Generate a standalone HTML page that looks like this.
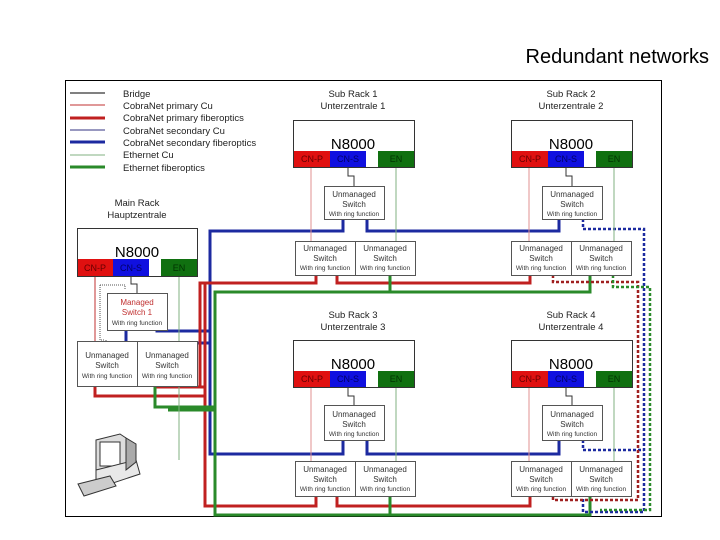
<!DOCTYPE html>
<html><head><style>
body{margin:0;background:#fff;}
svg{display:block;font-family:"Liberation Sans",sans-serif;}
</style></head><body>
<svg width="720" height="540" viewBox="0 0 720 540">
<text x="709" y="63" font-size="20" text-anchor="end">Redundant networks</text>
<rect x="65.5" y="80.5" width="596" height="436" fill="none" stroke="#000" stroke-width="1"/>
<!-- legend -->
<g stroke-linecap="butt">
<line x1="70" y1="93" x2="105" y2="93" stroke="#000" stroke-width="1"/>
<line x1="70" y1="105" x2="105" y2="105" stroke="#c03030" stroke-width="1"/>
<line x1="70" y1="118" x2="105" y2="118" stroke="#c02020" stroke-width="3"/>
<line x1="70" y1="130" x2="105" y2="130" stroke="#303080" stroke-width="1"/>
<line x1="70" y1="142" x2="105" y2="142" stroke="#1c2aa0" stroke-width="3"/>
<line x1="70" y1="155" x2="105" y2="155" stroke="#80b080" stroke-width="1"/>
<line x1="70" y1="167" x2="105" y2="167" stroke="#2a8a2a" stroke-width="3"/>
</g>
<g font-size="9.5" fill="#222">
<text x="123" y="97">Bridge</text>
<text x="123" y="109">CobraNet primary Cu</text>
<text x="123" y="121">CobraNet primary fiberoptics</text>
<text x="123" y="134">CobraNet secondary Cu</text>
<text x="123" y="146">CobraNet secondary fiberoptics</text>
<text x="123" y="158">Ethernet Cu</text>
<text x="123" y="171">Ethernet fiberoptics</text>
</g>

<!-- thick trunks -->
<g fill="none" stroke-width="3">
<path d="M343 219 V231 H210 V454 H343 V440" stroke="#1c2aa0"/>
<path d="M367 219 V231 H559 V219" stroke="#1c2aa0"/>
<path d="M367 440 V454 H559 V440" stroke="#1c2aa0"/>
<path d="M210 331 H157 V330 M210 343 H126 V330" stroke="#1c2aa0"/>
<path d="M316 275 V283 H205 V506 H316 V496" stroke="#c02020"/>
<path d="M337 275 V283 H530 V275" stroke="#c02020"/>
<path d="M337 496 V506 H530 V496" stroke="#c02020"/>
<path d="M205 387 H157 V386 M205 396 H95 V386" stroke="#c02020"/>
<path d="M205 283 H200 V387" stroke="#c02020"/>
<path d="M390 275 V292 H215 V515 H390 V496" stroke="#2a8a2a"/>
<path d="M390 292 H590 V275" stroke="#2a8a2a"/>
<path d="M390 515 H590 V496" stroke="#2a8a2a"/>
<path d="M215 407 H155 V386 M215 410 H168" stroke="#2a8a2a"/>
</g>
<!-- dotted -->
<g fill="none" stroke-width="2.5" stroke-dasharray="3,2">
<path d="M583 219 V229 H644 V512 H583 V498" stroke="#1c2aa0"/>
<path d="M583 440 V450 H644" stroke="#1c2aa0"/>
<path d="M553 275 V282 H638 V500 H553 V496" stroke="#a02020"/>
<path d="M613 275 V287 H650 V510 H600" stroke="#2a8a2a"/>
</g>
<!-- thin drops -->
<g stroke-width="1" fill="none">
<path d="M311 167 V241" stroke="#e09090"/>
<path d="M348 167 V176 H354 V186" stroke="#333"/>
<path d="M396 167 V241" stroke="#80b080"/>
<path d="M529 167 V241" stroke="#e09090"/>
<path d="M566 167 V176 H572 V186" stroke="#333"/>
<path d="M614 167 V241" stroke="#80b080"/>
<path d="M311 387 V461" stroke="#e09090"/>
<path d="M348 387 V396 H354 V405" stroke="#333"/>
<path d="M396 387 V461" stroke="#80b080"/>
<path d="M529 387 V461" stroke="#e09090"/>
<path d="M566 387 V396 H572 V405" stroke="#333"/>
<path d="M614 387 V461" stroke="#80b080"/>
<path d="M95 276 V341" stroke="#c03030"/>
<path d="M131 276 V284 H137 V293" stroke="#333"/>
<path d="M179 276 V460" stroke="#80b080"/>
<path d="M100 285 H125 V290 M100 285 V340 H105 M106 345 V340" stroke="#555" stroke-dasharray="1,1"/>
</g>

<!-- N8000 boxes -->
<g id="r">
</g>
<g font-size="15" text-anchor="middle">
<rect x="293.5" y="120.5" width="121" height="47" fill="#fff" stroke="#333"/>
<text x="353" y="149">N8000</text>
<rect x="511.5" y="120.5" width="121" height="47" fill="#fff" stroke="#333"/>
<text x="571" y="149">N8000</text>
<rect x="293.5" y="340.5" width="121" height="47" fill="#fff" stroke="#333"/>
<text x="353" y="369">N8000</text>
<rect x="511.5" y="340.5" width="121" height="47" fill="#fff" stroke="#333"/>
<text x="571" y="369">N8000</text>
<rect x="77.5" y="228.5" width="120" height="48" fill="#fff" stroke="#333"/>
<text x="137" y="257">N8000</text>
</g>
<g font-size="9" text-anchor="middle">
<rect x="294" y="151" width="36" height="16" fill="#e01010"/><text x="312" y="162" fill="#600">CN-P</text>
<rect x="330" y="151" width="36" height="16" fill="#1010e0"/><text x="348" y="162" fill="#006">CN-S</text>
<rect x="378" y="151" width="36" height="16" fill="#107010"/><text x="396" y="162" fill="#030">EN</text>
<rect x="512" y="151" width="36" height="16" fill="#e01010"/><text x="530" y="162" fill="#600">CN-P</text>
<rect x="548" y="151" width="36" height="16" fill="#1010e0"/><text x="566" y="162" fill="#006">CN-S</text>
<rect x="596" y="151" width="36" height="16" fill="#107010"/><text x="614" y="162" fill="#030">EN</text>
<rect x="294" y="371" width="36" height="16" fill="#e01010"/><text x="312" y="382" fill="#600">CN-P</text>
<rect x="330" y="371" width="36" height="16" fill="#1010e0"/><text x="348" y="382" fill="#006">CN-S</text>
<rect x="378" y="371" width="36" height="16" fill="#107010"/><text x="396" y="382" fill="#030">EN</text>
<rect x="512" y="371" width="36" height="16" fill="#e01010"/><text x="530" y="382" fill="#600">CN-P</text>
<rect x="548" y="371" width="36" height="16" fill="#1010e0"/><text x="566" y="382" fill="#006">CN-S</text>
<rect x="596" y="371" width="36" height="16" fill="#107010"/><text x="614" y="382" fill="#030">EN</text>
<rect x="78" y="259" width="35" height="17" fill="#e01010"/><text x="95" y="271" fill="#600">CN-P</text>
<rect x="113" y="259" width="36" height="17" fill="#1010e0"/><text x="131" y="271" fill="#006">CN-S</text>
<rect x="161" y="259" width="36" height="17" fill="#107010"/><text x="179" y="271" fill="#030">EN</text>
</g>
<!-- rack labels -->
<g font-size="9.5" text-anchor="middle" fill="#222">
<text x="353" y="97">Sub Rack 1</text><text x="353" y="109">Unterzentrale 1</text>
<text x="571" y="97">Sub Rack 2</text><text x="571" y="109">Unterzentrale 2</text>
<text x="353" y="318">Sub Rack 3</text><text x="353" y="330">Unterzentrale 3</text>
<text x="571" y="318">Sub Rack 4</text><text x="571" y="330">Unterzentrale 4</text>
<text x="137" y="206">Main Rack</text><text x="137" y="218">Hauptzentrale</text>
</g>
<!-- switches -->
<g font-size="8" text-anchor="middle" fill="#333">
<g stroke="#555" fill="#fff">
<rect x="324.5" y="186.5" width="60" height="33"/>
<rect x="295.5" y="241.5" width="60" height="34"/><rect x="355.5" y="241.5" width="60" height="34"/>
<rect x="542.5" y="186.5" width="60" height="33"/>
<rect x="511.5" y="241.5" width="60" height="34"/><rect x="571.5" y="241.5" width="60" height="34"/>
<rect x="324.5" y="405.5" width="60" height="35"/>
<rect x="295.5" y="461.5" width="60" height="35"/><rect x="355.5" y="461.5" width="60" height="35"/>
<rect x="542.5" y="405.5" width="60" height="35"/>
<rect x="511.5" y="461.5" width="60" height="35"/><rect x="571.5" y="461.5" width="60" height="35"/>
<rect x="107.5" y="293.5" width="60" height="37"/>
<rect x="77.5" y="341.5" width="60" height="45"/><rect x="137.5" y="341.5" width="60" height="45"/>
</g>
<g id="t">
<text x="354" y="197">Unmanaged</text><text x="354" y="207">Switch</text><text x="354" y="216" font-size="6.5">With ring function</text>
<text x="325" y="251">Unmanaged</text><text x="325" y="261">Switch</text><text x="325" y="270" font-size="6.5">With ring function</text>
<text x="385" y="251">Unmanaged</text><text x="385" y="261">Switch</text><text x="385" y="270" font-size="6.5">With ring function</text>
<text x="572" y="197">Unmanaged</text><text x="572" y="207">Switch</text><text x="572" y="216" font-size="6.5">With ring function</text>
<text x="541" y="251">Unmanaged</text><text x="541" y="261">Switch</text><text x="541" y="270" font-size="6.5">With ring function</text>
<text x="601" y="251">Unmanaged</text><text x="601" y="261">Switch</text><text x="601" y="270" font-size="6.5">With ring function</text>
<text x="354" y="417">Unmanaged</text><text x="354" y="427">Switch</text><text x="354" y="436" font-size="6.5">With ring function</text>
<text x="325" y="472">Unmanaged</text><text x="325" y="482">Switch</text><text x="325" y="491" font-size="6.5">With ring function</text>
<text x="385" y="472">Unmanaged</text><text x="385" y="482">Switch</text><text x="385" y="491" font-size="6.5">With ring function</text>
<text x="572" y="417">Unmanaged</text><text x="572" y="427">Switch</text><text x="572" y="436" font-size="6.5">With ring function</text>
<text x="541" y="472">Unmanaged</text><text x="541" y="482">Switch</text><text x="541" y="491" font-size="6.5">With ring function</text>
<text x="601" y="472">Unmanaged</text><text x="601" y="482">Switch</text><text x="601" y="491" font-size="6.5">With ring function</text>
<text x="137" y="305" fill="#c03030">Managed</text><text x="137" y="315" fill="#c03030">Switch 1</text><text x="137" y="325" font-size="6.5">With ring function</text>
<text x="107" y="358">Unmanaged</text><text x="107" y="368">Switch</text><text x="107" y="378" font-size="6.5">With ring function</text>
<text x="167" y="358">Unmanaged</text><text x="167" y="368">Switch</text><text x="167" y="378" font-size="6.5">With ring function</text>
</g>
</g>
<!-- computer -->
<g stroke="#333" stroke-width="1">
<polygon points="96,440 120,434 126,438 126,470 102,476 96,472" fill="#ddd"/>
<rect x="100" y="442" width="20" height="24" fill="#fff"/>
<polygon points="96,470 136,460 140,474 104,486 96,482" fill="#e8e8e8"/>
<polygon points="126,438 136,444 136,462 126,470" fill="#aaa"/>
<polygon points="78,484 110,476 116,486 84,496" fill="#ccc"/>
</g>
</svg>
</body></html>
